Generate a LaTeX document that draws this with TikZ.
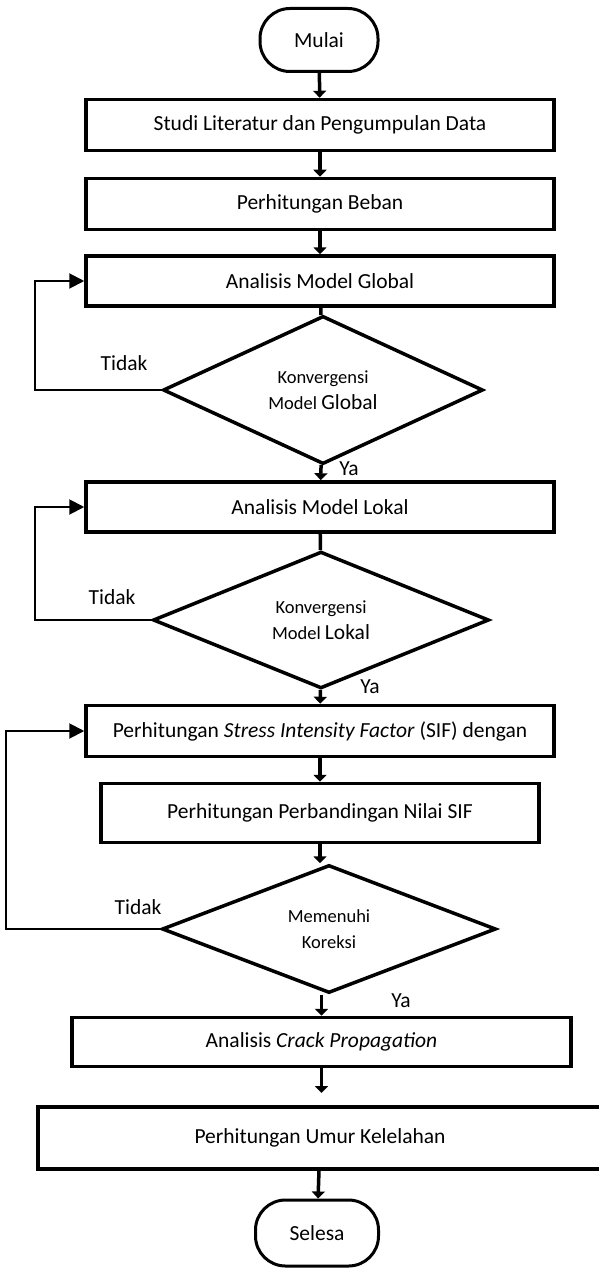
\documentclass[tikz,border=0pt]{standalone}
\usepackage{fontspec}
\setmainfont{Carlito}
\usetikzlibrary{shapes.geometric,arrows.meta}

\begin{document}
\begin{tikzpicture}[x=1pt,y=-1pt,
    terminal/.style={draw, line width=3pt, rounded corners=30pt, minimum width=118pt, minimum height=63pt, font=\fb},
    kotak/.style={draw, line width=3.5pt, minimum width=468pt, minimum height=51pt, inner sep=0pt, font=\fb},
    keputusan/.style={draw, diamond, line width=3.5pt, inner sep=0pt, align=center, font=\fk},
    ket/.style={inner sep=0pt, font=\fb},
    panah/.style={line width=3.5pt, -{Triangle[length=7pt,width=13pt]}},
    garis/.style={line width=3.5pt},
    balik/.style={line width=2pt, -{Triangle[length=15pt,width=15pt]}}]
        \def\fb{\fontsize{21.5}{26}\selectfont} % big text
        \def\fk{\fontsize{18.5}{26}\selectfont} % text in the diamonds
        \useasboundingbox (0,0) rectangle (598,1268);

        % main column
        \node[terminal] (mulai) at (319,40) {Mulai};
        \node[kotak] (studi) at (320,125) {Studi Literatur dan Pengumpulan Data};
        \node[kotak] (beban) at (320,204) {Perhitungan Beban};
        \node[kotak, minimum height=50pt] (global) at (320,281) {Analisis Model Global};
        \node[keputusan, minimum width=320pt, minimum height=135pt] (kglobal) at (323,390)
            {Konvergensi\\Model {\fb Global}};
        \node[kotak, minimum height=50pt] (lokal) at (320,507) {Analisis Model Lokal};
        \node[keputusan, minimum width=336pt, minimum height=130pt] (klokal) at (321,620)
            {Konvergensi\\Model {\fb Lokal}};
        \node[kotak] (sif) at (320,731) {Perhitungan \textit{Stress Intensity Factor} (SIF) dengan};
        \node[kotak, minimum width=438pt, minimum height=59pt] (banding) at (320,813)
            {Perhitungan Perbandingan Nilai SIF};
        \node[keputusan, minimum width=334pt, minimum height=128pt] (koreksi) at (329,929)
            {Memenuhi\\Koreksi};
        \node[kotak, minimum width=499pt, minimum height=49pt] (crack) at (321.5,1042)
            {Analisis \textit{Crack Propagation}};
        \node[kotak, minimum width=564pt, minimum height=62pt] (umur) at (320,1138)
            {Perhitungan Umur Kelelahan};
        \node[terminal, minimum width=123pt, minimum height=66pt] (selesa) at (317,1233) {Selesa};
        \coordinate (ujung) at (321.5,1093); % arrow stops short of the box

        % labels
        \node[ket] (tidak1) at (124,363) {Tidak};
        \node[ket] (tidak2) at (112,597) {Tidak};
        \node[ket] (tidak3) at (138,907) {Tidak};
        \node[ket] (ya1) at (349,469) {Ya};
        \node[ket] (ya2) at (370,687) {Ya};
        \node[ket] (ya3) at (401,1001) {Ya};

        % flow
        \draw[panah] (mulai) -- (studi);
        \draw[panah] (studi) -- (beban);
        \draw[panah] (beban) -- (global);
        \draw[garis] (global) -- (kglobal);
        \draw[panah] (kglobal) -- (lokal);
        \draw[garis] (lokal) -- (klokal);
        \draw[panah] (klokal) -- (sif);
        \draw[panah] (sif) -- (banding);
        \draw[panah] (banding.south) -- (banding.south |- koreksi.north);
        \draw[panah] (crack.north |- koreksi.south) -- (crack.north);
        \draw[panah] (crack.south) -- (ujung);
        \draw[panah] (umur) -- (selesa);

        % loops back
        \draw[balik] (kglobal.west) -- ++(-126,0) |- (global.west);
        \draw[balik] (klokal.west) -- ++(-116,0) |- (lokal.west);
        \draw[balik] (koreksi.west) -- ++(-154,0) |- (sif.west);
\end{tikzpicture}
\end{document}
